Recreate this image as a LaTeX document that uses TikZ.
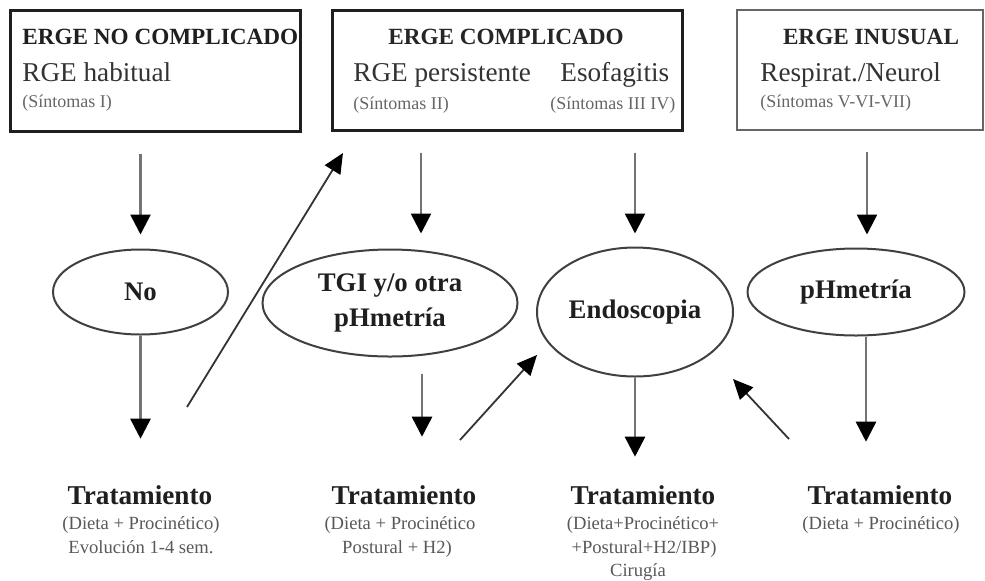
\documentclass[tikz,border=0pt]{standalone}
\usepackage{fontspec}
\setmainfont{Liberation Serif}
\usetikzlibrary{arrows.meta,shapes.geometric}
\newcommand{\fTitle}{\fontsize{11.6}{13}\selectfont\bfseries}
\newcommand{\fSub}{\fontsize{13.6}{16}\selectfont}
\newcommand{\fSmall}{\fontsize{9}{11}\selectfont}
\newcommand{\fEll}{\fontsize{13.4}{17.5}\selectfont\bfseries}
\newcommand{\fTrat}{\fontsize{13.6}{16}\selectfont\bfseries}
\newcommand{\fDet}{\fontsize{9.3}{12}\selectfont}
\begin{document}
\begin{tikzpicture}[x=0.5pt,y=-0.5pt,
  bx/.style={draw=black!88, line width=1.5pt, inner sep=0, minimum height=60pt},
  ell/.style={ellipse, draw=black!75, line width=1pt, inner sep=0, font=\fEll, text=black!88, align=center},
  varr/.style={draw=black!55, line width=1.3pt, -{Triangle[width=10pt,length=10pt,color=black]}},
  darr/.style={draw=black!80, line width=0.9pt, -{Triangle[width=9pt,length=10pt,color=black]}},
  lbl/.style={inner sep=0, anchor=mid west, text=black!80},
  ctr/.style={inner sep=0, anchor=mid, text=black!85},
  trat/.style={inner sep=0, anchor=base, font=\fTrat, text=black!88},
  det/.style={inner sep=0, anchor=base, font=\fDet, text=black!65}
]
\useasboundingbox (0,0) rectangle (985,580);
\fill[white] (0,0) rectangle (985,580);

% top boxes
\node[bx, minimum width=145pt, minimum height=60.5pt] (b1) at (155,70.5) {};
\node[bx, minimum width=175pt] (b2) at (507,70) {};
\node[bx, draw=black!60, line width=1pt, minimum width=123pt] (b3) at (860,70) {};

% box texts
\node[lbl, font=\fTitle, text=black!88] (b1t) at (22,40) {ERGE NO COMPLICADO};
\node[lbl, font=\fSub] (b1s) at (22,77) {RGE habitual};
\node[lbl, font=\fSmall, text=black!60] (b1n) at (22,103) {(Síntomas I)};

\node[ctr, font=\fTitle] (b2t) at (506,40) {ERGE COMPLICADO};
\node[lbl, font=\fSub] (b2s1) at (353,77) {RGE persistente};
\node[lbl, font=\fSub] (b2s2) at (560,77) {Esofagitis};
\node[lbl, font=\fSmall, text=black!60] (b2n1) at (353,105) {(Síntomas II)};
\node[lbl, font=\fSmall, text=black!60] (b2n2) at (550,105) {(Síntomas III IV)};

\node[ctr, font=\fTitle] (b3t) at (871,40) {ERGE INUSUAL};
\node[lbl, font=\fSub] (b3s) at (760,77) {Respirat./Neurol};
\node[lbl, font=\fSmall, text=black!60] (b3n) at (760,103) {(Síntomas V-VI-VII)};

% ellipses
\node[ell, minimum width=87.5pt, minimum height=42.5pt] (no) at (140.5,292) {No};
\node[ell, minimum width=127.5pt, minimum height=53.5pt] (tgi) at (390,303) {TGI y/o otra\\pHmetría};
\node[ell, minimum width=98pt, minimum height=64.5pt] (endo) at (635,312) {Endoscopia};
\node[ell, minimum width=108.5pt, minimum height=43.5pt] (phm) at (856,292) {pHmetría};

% treatments
\node[trat] (t1) at (140,504) {Tratamiento};
\node[det] (t1a) at (141,529) {(Dieta + Procinético)};
\node[det] (t1b) at (141,553) {Evolución 1-4 sem.};

\node[trat] (t2) at (404,504) {Tratamiento};
\node[det] (t2a) at (400,529) {(Dieta + Procinético};
\node[det] (t2b) at (397,553) {Postural + H2)};

\node[trat] (t3) at (643,504) {Tratamiento};
\node[det] (t3a) at (643,529) {(Dieta+Procinético+};
\node[det] (t3b) at (644,553) {+Postural+H2/IBP)};
\node[det] (t3c) at (638,576) {Cirugía};

\node[trat] (t4) at (880,504) {Tratamiento};
\node[det] (t4a) at (881,529) {(Dieta + Procinético)};

% vertical arrows from boxes to ellipses
\draw[varr, shorten <=10.5pt, shorten >=7pt] (no.north |- b1.south) -- (no.north);
\draw[varr, shorten <=10.5pt, shorten >=7.5pt] ([xshift=15.5pt]tgi.north |- b2.south) -- ([xshift=15.5pt]tgi.north);
\draw[varr, shorten <=10.5pt, shorten >=6.5pt] (endo.north |- b2.south) -- (endo.north);
\draw[varr, shorten <=10.5pt, shorten >=6.5pt] ([xshift=5.5pt]phm.north |- b3.south) -- ([xshift=5.5pt]phm.north);

% vertical arrows from ellipses to treatments
\draw[varr, shorten >=23pt] (no.south) -- (no.south |- t1.north);
\draw[varr, shorten <=8pt, shorten >=24pt] ([xshift=16pt]tgi.south) -- ([xshift=16pt]tgi.south |- t2.north);
\draw[varr, shorten >=14pt] (endo.south) -- (endo.south |- t3.north);
\draw[varr, shorten >=21.5pt] ([xshift=5pt]phm.south) -- ([xshift=5pt]phm.south |- t4.north);

% diagonal arrows
\coordinate (d1s) at (187,407);
\coordinate (d1e) at (343,153);
\coordinate (d2s) at (460,440);
\coordinate (d2e) at (537,355);
\coordinate (d3s) at (789,439);
\coordinate (d3e) at (733,379);
\draw[darr] (d1s) -- (d1e);
\draw[darr] (d2s) -- (d2e);
\draw[darr] (d3s) -- (d3e);
\end{tikzpicture}
\end{document}
